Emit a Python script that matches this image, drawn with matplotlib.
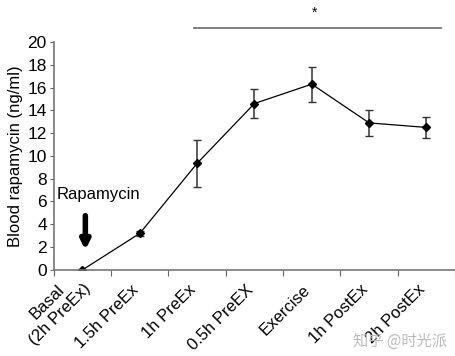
import matplotlib
matplotlib.use("Agg")
import matplotlib.pyplot as plt
import matplotlib.transforms as mtransforms

labels = ["Basal\n(2h PreEx)", "1.5h PreEx", "1h PreEx", "0.5h PreEX",
          "Exercise", "1h PostEx", "2h PostEx"]
values = [0.0, 3.2, 9.35, 14.6, 16.3, 12.9, 12.5]
errors = [0.0, 0.2, 2.05, 1.3, 1.55, 1.15, 0.95]

plt.rcParams['font.family'] = ['Liberation Sans', 'DejaVu Sans']

fig = plt.figure(figsize=(4.56, 3.56), dpi=100)
ax = fig.add_axes([0.118, 0.242, 0.88, 0.64])

x = list(range(len(values)))
ax.errorbar(x, values, yerr=errors, fmt='-', color='black', lw=0.9,
            ecolor='#333333', elinewidth=1.1, capsize=3, capthick=1.0,
            marker='D', markersize=4.5, markerfacecolor='black')

ax.set_xlim(-0.5, 6.5)
ax.set_ylim(0, 20)
ax.set_yticks(range(0, 21, 2))
ax.set_xticks([i - 0.5 for i in range(8)])
ax.set_xticklabels([])
ax.tick_params(axis='x', length=4, color='#666666')
ax.tick_params(axis='y', length=3, color='#666666', labelsize=12.5, pad=2)

# category labels, drawn as rotated texts under each category
base = ax.get_xaxis_transform()
for i, lab in zip(x, labels):
    if "\n" in lab:
        dx, dy = -12, 1
    else:
        dx, dy = -9, -12
    off = mtransforms.ScaledTranslation(dx / 100, dy / 100, fig.dpi_scale_trans)
    ax.text(i, 0, lab, transform=base + off, rotation=45,
            rotation_mode='anchor', ha='right', va='top', fontsize=12,
            linespacing=1.2, multialignment='center')

for s in ['top', 'right']:
    ax.spines[s].set_visible(False)
for s in ['left', 'bottom']:
    ax.spines[s].set_color('#777777')
    ax.spines[s].set_linewidth(1.2)
ax.set_ylabel("Blood rapamycin (ng/ml)", fontsize=12, labelpad=3)

# significance bar above the plot
ax.plot([1.95, 6.25], [21.2, 21.2], color='#777777', lw=1.3, clip_on=False)
ax.text(4.05, 22.6, "*", ha='center', va='center', fontsize=10)

# dosing annotation
ax.text(-0.45, 6.6, "Rapamycin", fontsize=12, ha='left', va='center')
ax.annotate("", xy=(0.05, 1.5), xytext=(0.05, 5.0),
            arrowprops=dict(arrowstyle='-|>', lw=4, color='black',
                            mutation_scale=13))

fig.text(0.98, 0.03, "知乎 @时光派", fontsize=11, color='#bbbbbb', ha='right',
         family=['Noto Sans CJK SC', 'DejaVu Sans'])

fig.savefig("out.png", dpi=100)
